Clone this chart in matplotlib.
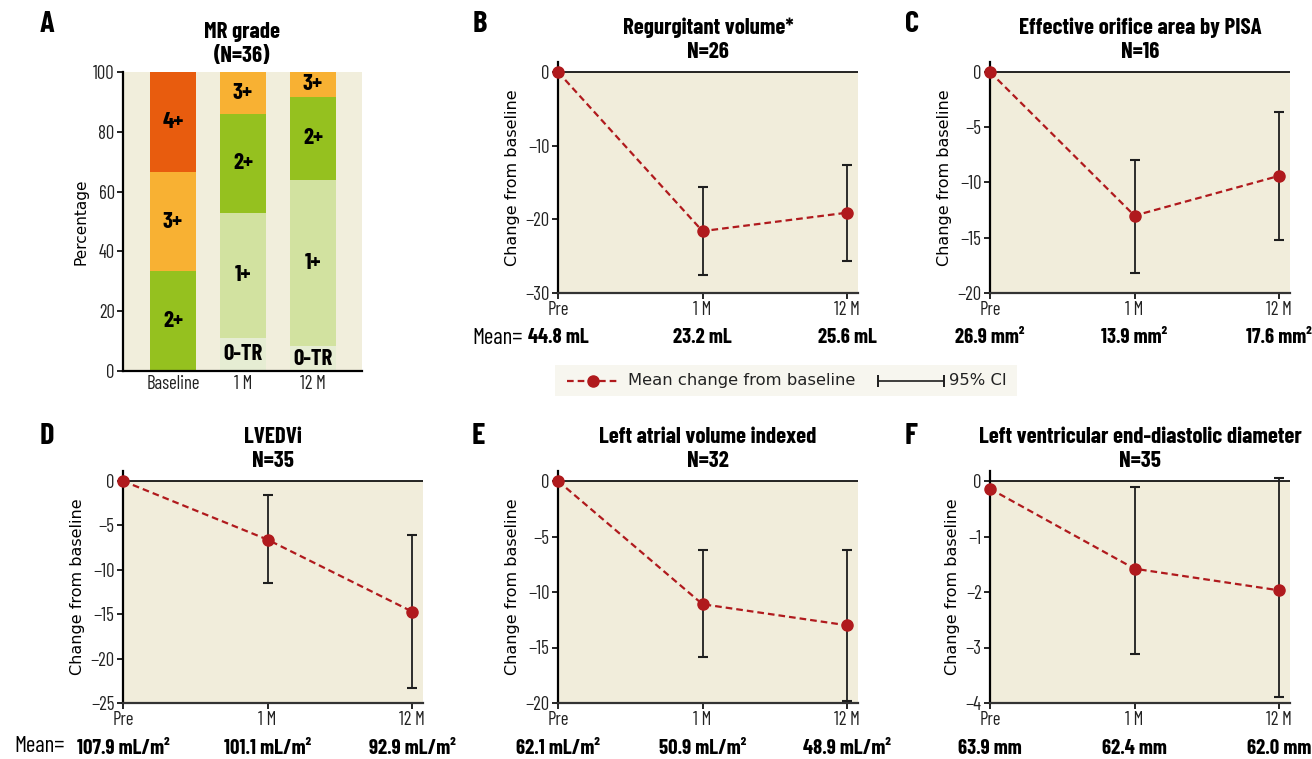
"""Echo outcomes panel figure: MR grade bars plus change-from-baseline plots."""

import matplotlib

matplotlib.use("Agg")
import matplotlib.pyplot as plt
import numpy as np

W, H = 1312, 759

COND = ["Barlow Condensed", "DejaVu Sans"]
REG = ["DejaVu Sans"]

RED = "#b01a1d"
BEIGE = "#f1eddb"
ERR = "#1e1e1e"

# ---- panel A data (percent of patients, N=36) ----
mr_visits = ["Baseline", "1 M", "12 M"]
pct_0tr = [0.0, 11.1, 8.3]
pct_1 = [0.0, 41.7, 55.6]
pct_2 = [33.3, 33.3, 27.8]
pct_3 = [33.3, 13.9, 8.3]
pct_4 = [33.4, 0.0, 0.0]
grade_names = ["0-TR", "1+", "2+", "3+", "4+"]
grade_colors = ["#e6edd3", "#d2e2a0", "#95c11f", "#f8b133", "#e85c0e"]

# ---- change from baseline panels ----
visits = ["Pre", "1 M", "12 M"]

regvol_change = [0.0, -21.6, -19.1]
regvol_lo = [np.nan, -27.6, -25.6]
regvol_hi = [np.nan, -15.6, -12.6]
regvol_means = ["44.8 mL", "23.2 mL", "25.6 mL"]

eroa_change = [0.0, -13.0, -9.4]
eroa_lo = [np.nan, -18.2, -15.2]
eroa_hi = [np.nan, -8.0, -3.6]
eroa_means = ["26.9 mm²", "13.9 mm²", "17.6 mm²"]

lvedvi_change = [0.0, -6.6, -14.7]
lvedvi_lo = [np.nan, -11.5, -23.3]
lvedvi_hi = [np.nan, -1.6, -6.1]
lvedvi_means = ["107.9 mL/m²", "101.1 mL/m²", "92.9 mL/m²"]

lavi_change = [0.0, -11.1, -13.0]
lavi_lo = [np.nan, -15.9, -19.85]
lavi_hi = [np.nan, -6.2, -6.2]
lavi_means = ["62.1 mL/m²", "50.9 mL/m²", "48.9 mL/m²"]

lvedd_change = [-0.14, -1.58, -1.97]
lvedd_lo = [np.nan, -3.11, -3.9]
lvedd_hi = [np.nan, -0.1, 0.05]
lvedd_means = ["63.9 mm", "62.4 mm", "62.0 mm"]

TITLE_SIZE = 16.5
TICK_SIZE = 13.5


def px_rect(left, top, right, bottom):
    return [left / W, 1 - bottom / H, (right - left) / W, (bottom - top) / H]


def plot_mr_grade(fig):
    ax = fig.add_axes(px_rect(123, 72, 362, 371))
    ax.set_facecolor("#f1eedc")
    x = np.arange(len(mr_visits))
    bottom = np.zeros(len(mr_visits))
    for name, vals, color in zip(
        grade_names, [pct_0tr, pct_1, pct_2, pct_3, pct_4], grade_colors
    ):
        vals = np.array(vals)
        ax.bar(x, vals, bottom=bottom, width=0.66, color=color, linewidth=0)
        for xi, b, v in zip(x, bottom, vals):
            if v > 0:
                ax.text(
                    xi, b + v / 2, name, ha="center", va="center",
                    family=COND, fontweight="bold", fontsize=16.5,
                )
        bottom += vals
    ax.set_xlim(-0.714, 2.7)
    ax.set_ylim(0, 100)
    ax.set_yticks(range(0, 101, 20))
    ax.set_xticks(x, mr_visits)
    for s in ["top", "right"]:
        ax.spines[s].set_visible(False)
    for s in ["left", "bottom"]:
        ax.spines[s].set_linewidth(1.6)
    ax.tick_params(axis="x", length=0, pad=3)
    ax.tick_params(axis="y", length=4, width=1.2, pad=2)
    for lab in ax.get_xticklabels() + ax.get_yticklabels():
        lab.set_family(COND)
        lab.set_fontsize(TICK_SIZE)
        lab.set_color("#222222")
    ax.set_ylabel("Percentage", family=REG, fontsize=11, labelpad=3)
    ax.set_title("MR grade\n(N=36)", family=COND, fontweight="bold",
                 fontsize=TITLE_SIZE, linespacing=1.25, pad=7)


def plot_change(fig, rect, change, lo, hi, ymin, ystep, title, means):
    left, zero, right, bottom = rect
    top = zero - 10
    ax = fig.add_axes(px_rect(left, top, right, bottom))
    x = np.arange(len(visits))
    unit = 144.5
    ytop = -ymin * (zero - top) / (bottom - zero)
    ax.set_xlim(0, (right - left) / unit)
    ax.set_ylim(ymin, ytop)
    ax.set_facecolor("white")
    ax.axhspan(ymin, 0, color=BEIGE, zorder=0, linewidth=0)
    ax.axhline(0, color="black", lw=1.2, zorder=1)

    change = np.array(change)
    lo = np.array(lo)
    hi = np.array(hi)
    m = np.isfinite(lo)
    ax.errorbar(
        x[m], change[m], yerr=[change[m] - lo[m], hi[m] - change[m]],
        fmt="none", ecolor=ERR, elinewidth=1.3, capsize=3.5, capthick=1.5,
        zorder=3, clip_on=False,
    )
    ax.plot(x, change, ls=(0, (3, 1.8)), color=RED, lw=1.6, marker="o",
            ms=8, zorder=5, clip_on=False)

    ax.set_yticks(np.arange(ymin, 0.001, ystep))
    ax.set_xticks(x, visits)
    for s in ["top", "right"]:
        ax.spines[s].set_visible(False)
    ax.spines["left"].set_linewidth(1.6)
    ax.spines["bottom"].set_linewidth(1.6)
    ax.spines["bottom"].set_color("#333333")
    ax.tick_params(length=4, width=1.2, pad=2)
    for lab in ax.get_xticklabels() + ax.get_yticklabels():
        lab.set_family(COND)
        lab.set_fontsize(TICK_SIZE)
        lab.set_color("#222222")
    ax.set_ylabel("Change from baseline", family=REG, fontsize=11.5, labelpad=4)
    ax.set_title(title, family=COND, fontweight="bold", fontsize=TITLE_SIZE,
                 linespacing=1.25, pad=2)
    yfrac = -45 / (bottom - top)
    for xi, s in zip(x, means):
        ax.text(xi, yfrac, s, transform=ax.get_xaxis_transform(),
                ha="center", va="center", family=COND, fontweight="bold",
                fontsize=15)
    return ax


def draw_legend(fig):
    ax = fig.add_axes(px_rect(555, 365, 1017, 396))
    ax.set_facecolor("#f7f6ef")
    ax.set_xlim(0, 1)
    ax.set_ylim(0, 1)
    ax.set_xticks([])
    ax.set_yticks([])
    for s in ax.spines.values():
        s.set_visible(False)
    ax.plot([0.026, 0.139], [0.5, 0.5], ls=(0, (3, 1.8)), color=RED, lw=1.6)
    ax.plot([0.082], [0.5], marker="o", ms=8, color=RED)
    ax.text(0.158, 0.5, "Mean change from baseline", va="center", ha="left",
            family=REG, fontsize=11.8, color="#222222")
    ax.errorbar([0.77], [0.5], xerr=[0.071], fmt="none", ecolor=ERR,
                elinewidth=1.2, capsize=4, capthick=1.4)
    ax.text(0.853, 0.5, "95% CI", va="center", ha="left", family=REG,
            fontsize=11.8, color="#222222")


def main():
    fig = plt.figure(figsize=(W / 100, H / 100), dpi=100)
    plot_mr_grade(fig)
    plot_change(fig, (558, 72, 858, 293), regvol_change, regvol_lo, regvol_hi,
                -30, 10, "Regurgitant volume*\nN=26", regvol_means)
    plot_change(fig, (990, 72, 1290, 293), eroa_change, eroa_lo, eroa_hi,
                -20, 5, "Effective orifice area by PISA\nN=16", eroa_means)
    plot_change(fig, (123, 481, 423, 703), lvedvi_change, lvedvi_lo, lvedvi_hi,
                -25, 5, "LVEDVi\nN=35", lvedvi_means)
    plot_change(fig, (558, 481, 858, 703), lavi_change, lavi_lo, lavi_hi,
                -20, 5, "Left atrial volume indexed\nN=32", lavi_means)
    plot_change(fig, (990, 481, 1290, 703), lvedd_change, lvedd_lo, lvedd_hi,
                -4, 1, "Left ventricular end-diastolic diameter\nN=35",
                lvedd_means)
    draw_legend(fig)

    # "Mean=" row labels
    for xr, yc in [(523, 338), (65, 746)]:
        fig.text(xr / W, 1 - yc / H, "Mean=", ha="right", va="center",
                 family=COND, fontsize=16.5)

    # panel letters
    for letter, xc, yc in [("A", 47, 25), ("B", 480, 25), ("C", 912, 25),
                           ("D", 47, 436), ("E", 478, 436), ("F", 911, 436)]:
        fig.text(xc / W, 1 - yc / H, letter, ha="center", va="center",
                 family=COND, fontweight="bold", fontsize=22)

    fig.savefig("out.png", dpi=100)


if __name__ == "__main__":
    main()
